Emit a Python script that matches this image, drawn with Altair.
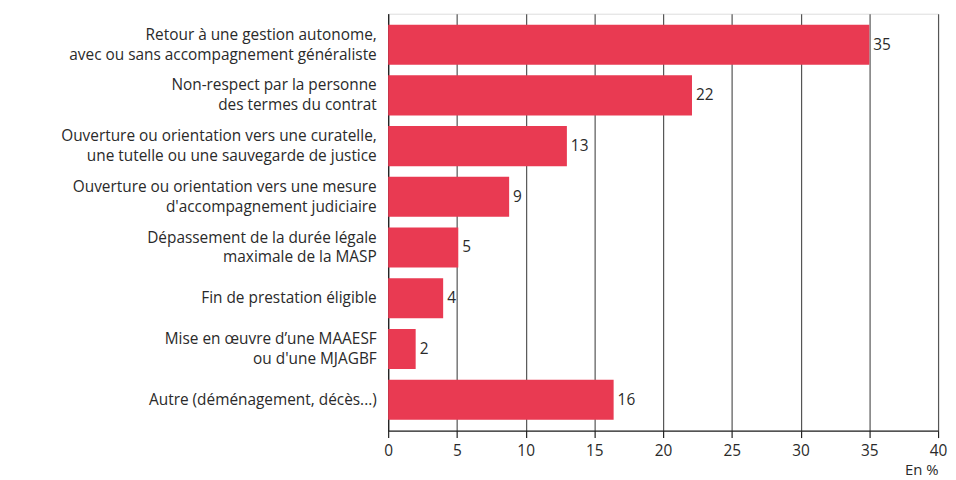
import altair as alt
import pandas as pd

categories = [
    "Retour à une gestion autonome, |avec ou sans accompagnement généraliste",
    "Non-respect par la personne|des termes du contrat",
    "Ouverture ou orientation vers une curatelle,|une tutelle ou une sauvegarde de justice",
    "Ouverture ou orientation vers une mesure|d'accompagnement judiciaire",
    "Dépassement de la durée légale|maximale de la MASP",
    "Fin de prestation éligible",
    "Mise en œuvre d’une MAAESF|ou d'une MJAGBF",
    "Autre (déménagement, décès...)",
]
values = [35.0, 22.1, 13.0, 8.8, 5.1, 4.0, 2.0, 16.4]
labels = ["35", "22", "13", "9", "5", "4", "2", "16"]

df = pd.DataFrame({"cat": categories, "val": values, "lab": labels})

FONT = "Open Sans"
FS = 15.5
LH = 20
RED = "#E93A52"
TXT = "#2a2a2a"

y_enc = alt.Y(
    "cat:N",
    sort=categories,
    scale=alt.Scale(paddingInner=0.21, paddingOuter=0.215),
    axis=alt.Axis(
        title=None,
        labelExpr="split(datum.label, '|')",
        labelFontSize=FS,
        labelFont=FONT,
        labelColor=TXT,
        labelPadding=12,
        labelLineHeight=LH,
        labelBaseline="middle",
        labelOffset=alt.condition(
            "indexof(datum.value, '|') >= 0", alt.value(-LH / 2), alt.value(0)
        ),
        labelLimit=0,
        ticks=False,
        domainColor="#222222",
        domainWidth=1.2,
        grid=False,
    ),
)

x_enc = alt.X(
    "val:Q",
    scale=alt.Scale(domain=[0, 40], nice=False),
    axis=alt.Axis(
        title="En %",
        titleAnchor="end",
        titleFont=FONT,
        titleFontSize=15,
        titleFontWeight="normal",
        titleColor=TXT,
        titlePadding=4,
        values=[0, 5, 10, 15, 20, 25, 30, 35, 40],
        labelFont=FONT,
        labelFontSize=FS,
        labelColor=TXT,
        labelPadding=6,
        labelFlush=False,
        tickColor="#222222",
        tickSize=7,
        tickWidth=1.2,
        domainColor="#222222",
        domainWidth=1.2,
        grid=True,
        gridColor="#555555",
        gridWidth=1.2,
    ),
)

bars = alt.Chart(df).mark_bar(color=RED).encode(x=x_enc, y=y_enc)

text = alt.Chart(df).mark_text(
    align="left", baseline="middle", dx=4, fontSize=FS, font=FONT, color=TXT
).encode(
    x=alt.X("val:Q"),
    y=alt.Y("cat:N", sort=categories),
    text="lab:N",
)

chart = (
    alt.layer(bars, text)
    .properties(
        width=554,
        height=420,
        autosize=alt.AutoSizeParams(type="none"),
        padding={"left": 383, "top": 4, "right": 10, "bottom": 52},
    )
    .configure_view(stroke=None)
    .configure(background="white")
)

chart.save("out.html", embed_options={"renderer": "svg", "actions": False})
